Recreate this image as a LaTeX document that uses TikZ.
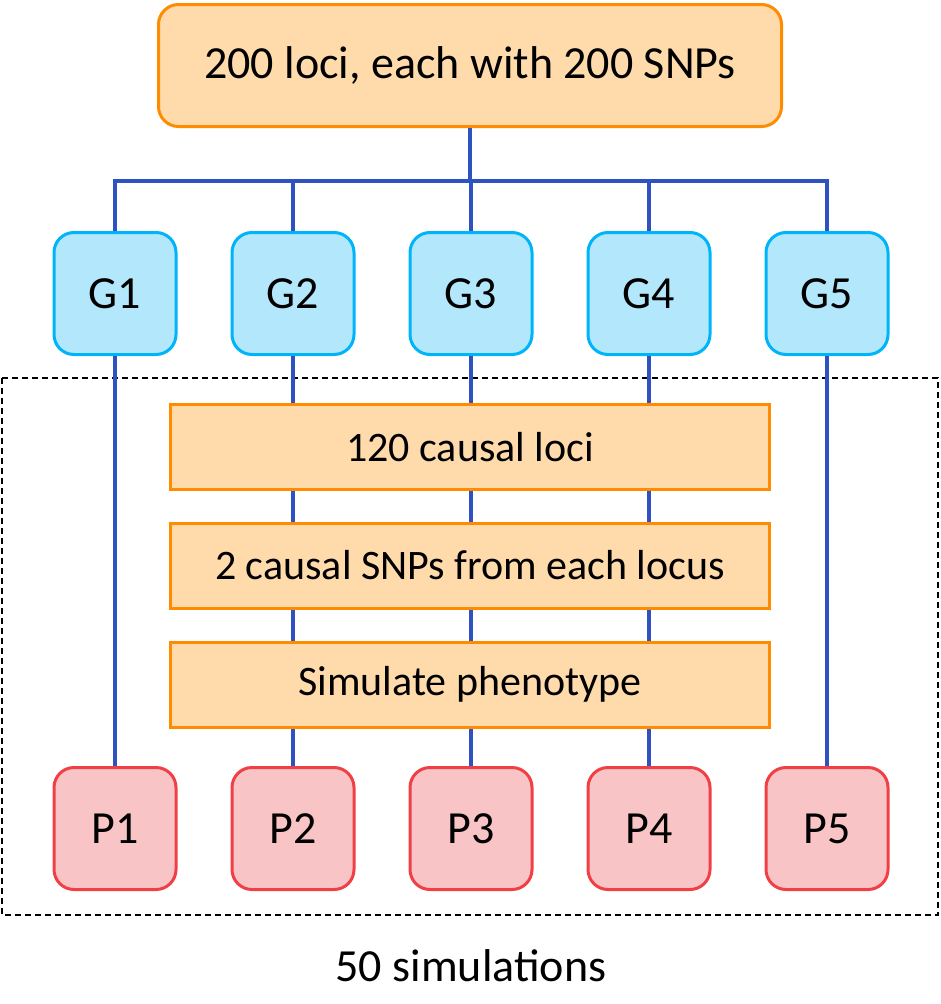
\documentclass[tikz,border=0pt]{standalone}
\usepackage{fontspec}
\setmainfont{Carlito}
\definecolor{linkblue}{RGB}{46,82,194}
\definecolor{orbord}{RGB}{255,140,0}
\definecolor{orfill}{RGB}{255,219,172}
\definecolor{gbord}{RGB}{0,180,250}
\definecolor{gfill}{RGB}{179,231,252}
\definecolor{pbord}{RGB}{240,64,70}
\definecolor{pfill}{RGB}{249,196,198}
\tikzset{
  topbox/.style={draw=orbord, fill=orfill, line width=3pt, rounded corners=20pt,
    minimum width=623pt, minimum height=122pt, inner sep=0pt,
    font=\fontsize{46}{54}\selectfont},
  gbox/.style={draw=gbord, fill=gfill, line width=3pt, rounded corners=20pt,
    minimum width=122pt, minimum height=122pt, inner sep=0pt,
    font=\fontsize{46}{54}\selectfont},
  pbox/.style={gbox, draw=pbord, fill=pfill},
  stepbox/.style={draw=orbord, fill=orfill, line width=3pt,
    minimum width=599pt, minimum height=85pt, inner sep=0pt,
    font=\fontsize{42}{50}\selectfont},
  link/.style={draw=linkblue, line width=4.5pt},
  frame/.style={draw=black, line width=1.5pt, dash pattern=on 6pt off 4pt},
  caption/.style={font=\fontsize{46}{54}\selectfont, inner sep=0pt}
}
\begin{document}
\begin{tikzpicture}[x=1pt, y=-1pt]
\useasboundingbox (0,0) rectangle (941,1004);
\draw[frame] (2,378) rectangle (938,915);
\node[topbox] (top) at (470,65.5) {200 loci, each with 200 SNPs};
\foreach \i/\x in {1/115,2/293,3/471,4/649,5/827}{
  \node[gbox] (G\i) at (\x,293.5) {G\i};
  \node[pbox] (P\i) at (\x,828.5) {P\i};
}
\coordinate (bus) at (471,181);
\draw[link] (top.south) -- (top.south |- bus);
\draw[link] (G1.north) -- (G1.north |- bus) -- (G5.north |- bus) -- (G5.north);
\foreach \i in {2,3,4}{ \draw[link] (G\i.north) -- (G\i.north |- bus); }
\foreach \i in {1,...,5}{ \draw[link] (G\i.south) -- (P\i.north); }
\node[stepbox] (s1) at (470,447) {120 causal loci};
\node[stepbox] (s2) at (470,565.5) {2 causal SNPs from each locus};
\node[stepbox] (s3) at (470,684.5) {Simulate phenotype};
\node[caption] (cap) at (471,966) {50 simulations};
\end{tikzpicture}
\end{document}
